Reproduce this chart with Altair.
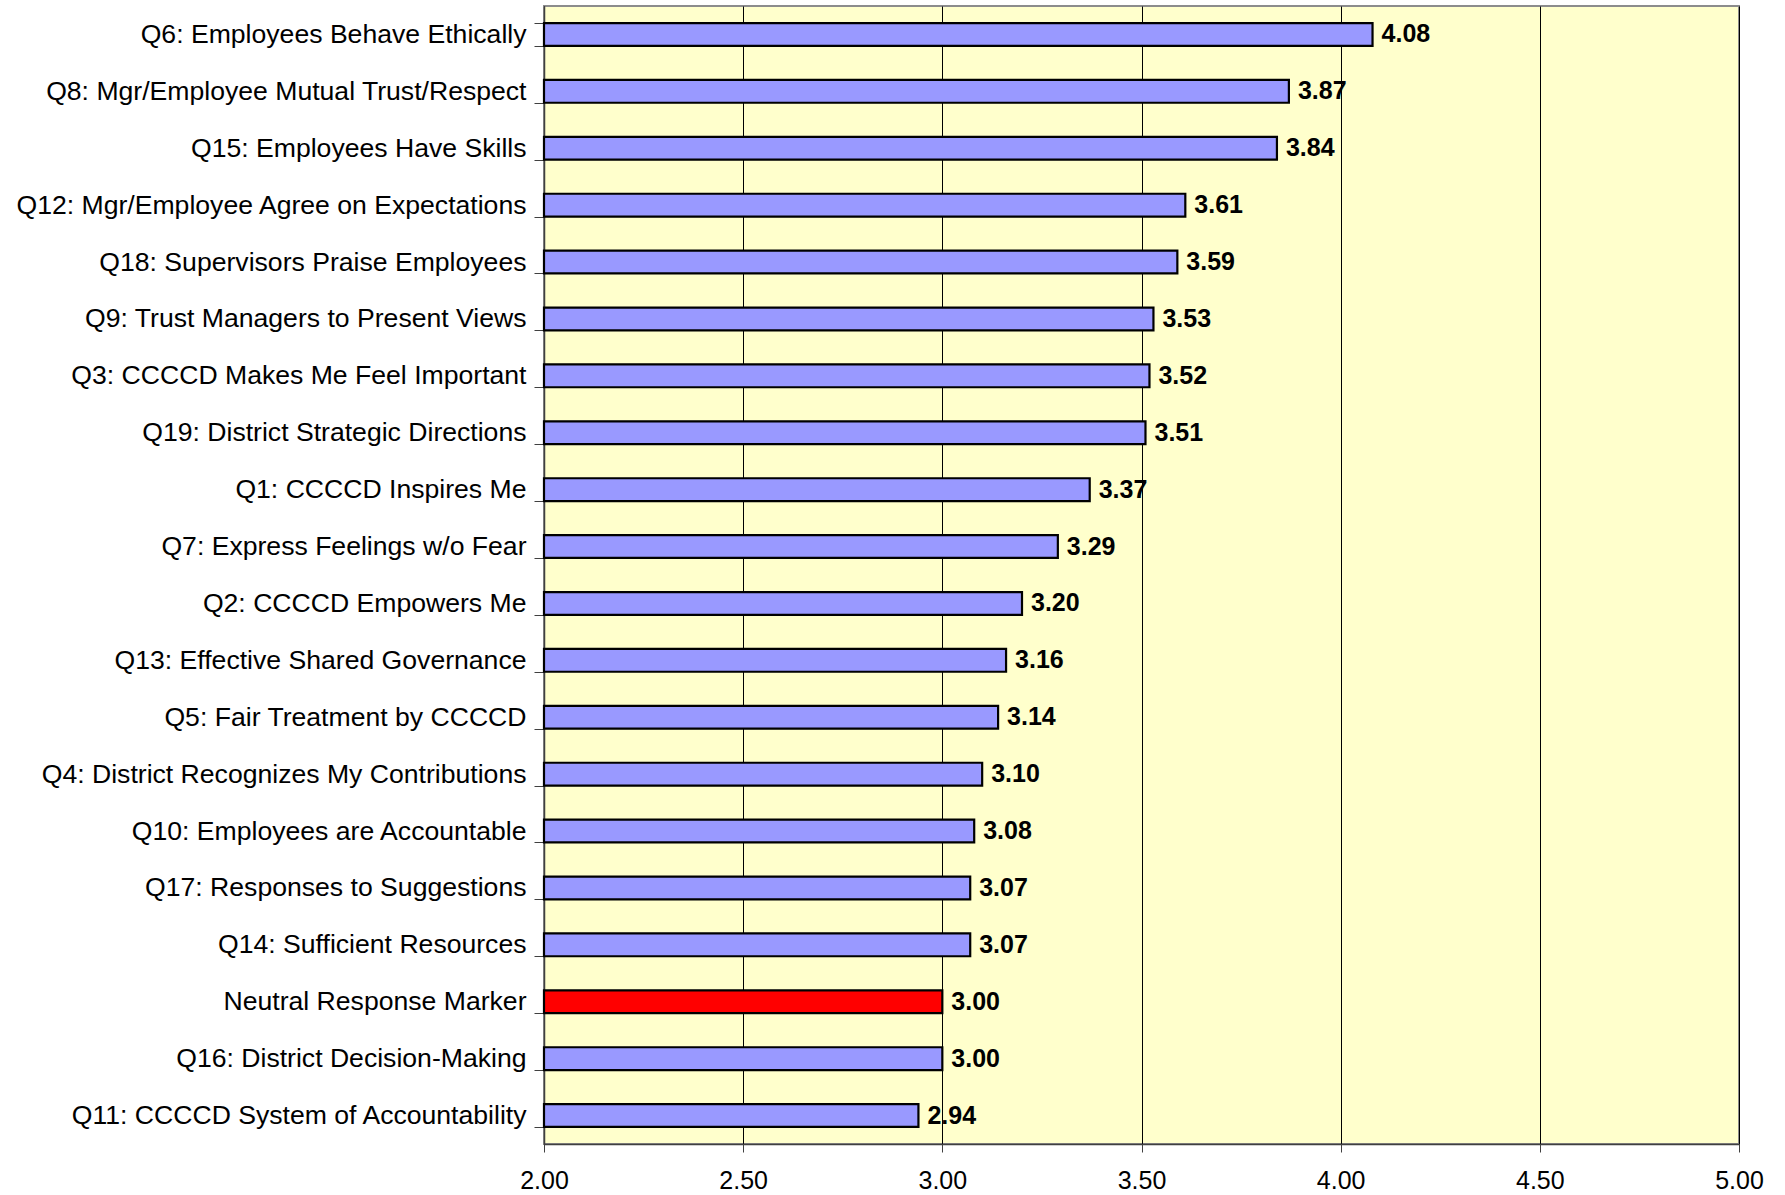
import altair as alt
import pandas as pd

categories = [
    "Q6: Employees Behave Ethically",
    "Q8: Mgr/Employee Mutual Trust/Respect",
    "Q15: Employees Have Skills",
    "Q12: Mgr/Employee Agree on Expectations",
    "Q18: Supervisors Praise Employees ",
    "Q9: Trust Managers to Present Views",
    "Q3: CCCCD Makes Me Feel Important",
    "Q19: District Strategic Directions",
    "Q1: CCCCD Inspires Me",
    "Q7: Express Feelings w/o Fear",
    "Q2: CCCCD Empowers Me",
    "Q13: Effective Shared Governance",
    "Q5: Fair Treatment by CCCCD",
    "Q4: District Recognizes My Contributions",
    "Q10: Employees are Accountable ",
    "Q17: Responses to Suggestions",
    "Q14: Sufficient Resources",
    "Neutral Response Marker ",
    "Q16: District Decision-Making",
    "Q11: CCCCD System of Accountability",
]
values = [4.08, 3.87, 3.84, 3.61, 3.59, 3.53, 3.52, 3.51, 3.37, 3.29,
          3.20, 3.16, 3.14, 3.10, 3.08, 3.07, 3.07, 3.00, 3.00, 2.94]
kinds = ["Question"] * 17 + ["Neutral"] + ["Question"] * 2

x_ticks = [2.0, 2.5, 3.0, 3.5, 4.0, 4.5, 5.0]

df = pd.DataFrame({"item": categories, "score": values, "kind": kinds})
df["label"] = df["score"].map(lambda v: f"{v:.2f}")

FONT = "Liberation Sans"

y_enc = alt.Y(
    "item:N",
    sort=categories,
    title=None,
    scale=alt.Scale(paddingInner=0.6, paddingOuter=0.3),
    axis=alt.Axis(
        tickBand="extent",
        tickSize=10,
        tickColor="#404040",
        domainColor="#404040",
        domainWidth=1.5,
        labelFont=FONT,
        labelFontSize=26.6,
        labelColor="#000000",
        labelPadding=8,
        labelLimit=700,
        grid=False,
    ),
)

x_enc = alt.X(
    "score:Q",
    title=None,
    scale=alt.Scale(domain=[2, 5], zero=False, nice=False),
    axis=alt.Axis(
        values=x_ticks,
        format=".2f",
        tickSize=8,
        tickColor="#404040",
        domainColor="#404040",
        domainWidth=1.5,
        labelFont=FONT,
        labelFontSize=25,
        labelColor="#000000",
        labelPadding=16,
        labelFlush=False,
        grid=True,
        gridColor="#000000",
        gridWidth=1,
    ),
)

bars = alt.Chart(df).mark_bar(stroke="#000000", strokeWidth=2.2).encode(
    y=y_enc,
    x=x_enc,
    x2=alt.datum(2),
    color=alt.Color(
        "kind:N",
        scale=alt.Scale(domain=["Question", "Neutral"], range=["#9999FF", "#FF0000"]),
        legend=None,
    ),
)

labels = alt.Chart(df).mark_text(
    align="left", baseline="middle", dx=9, font=FONT, fontSize=25, fontWeight="bold", color="#000000"
).encode(
    y=alt.Y("item:N", sort=categories),
    x=alt.X("score:Q"),
    text="label:N",
)

chart = (
    alt.layer(bars, labels)
    .properties(
        width=1195,
        height=1138,
        autosize="none",
        padding={"left": 544, "top": 6, "right": 46, "bottom": 51},
        background="#FFFFFF",
    )
    .configure_view(fill="#FFFFCC", stroke="#8C8C8C", strokeWidth=2)
)

chart.save("out.html", embed_options={"renderer": "svg", "actions": False})
